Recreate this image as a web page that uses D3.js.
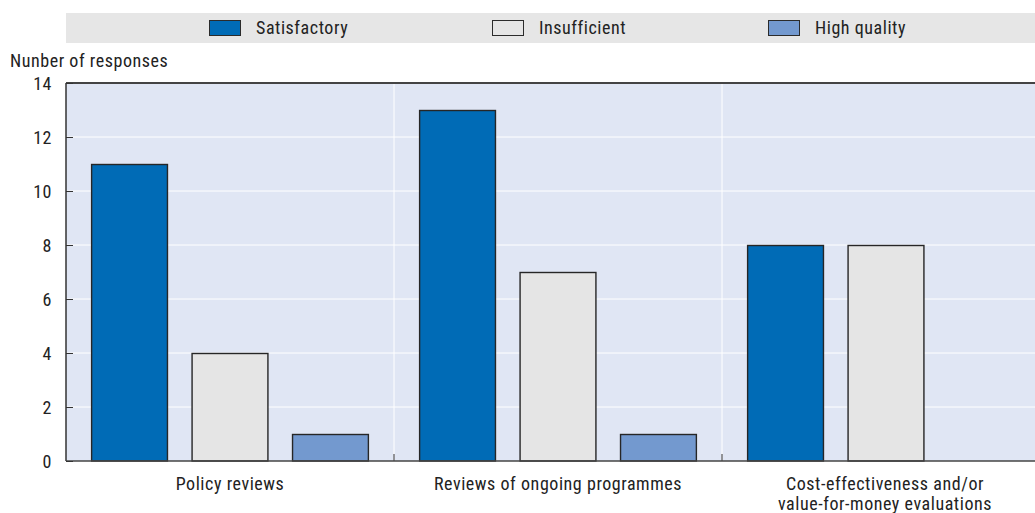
<!DOCTYPE html>
<html>
<head>
<meta charset="utf-8">
<script src="https://cdn.jsdelivr.net/npm/d3@7"></script>
<style>
  html, body { margin: 0; padding: 0; background: #fff; }
  svg { display: block; }
  text { font-family: "Liberation Sans Narrow", "Arial Narrow", "Roboto Condensed", "Liberation Sans", sans-serif; fill: #222; letter-spacing: 0.55px; }
</style>
</head>
<body>
<svg id="chart" width="1035" height="513"></svg>
<script>
// Evaluation types and counts of responses per quality rating
const categories = ["Policy reviews", "Reviews of ongoing programmes", "Cost-effectiveness and/or\nvalue-for-money evaluations"];
const seriesNames = ["Satisfactory", "Insufficient", "High quality"];
const satisfactory = [11, 13, 8];
const insufficient = [4, 7, 8];
const highQuality = [1, 1, 0];
const yTicks = [0, 2, 4, 6, 8, 10, 12, 14];
const yTitle = "Nunber of responses";

const colors = ["#006bb6", "#e5e5e5", "#7399cf"];
const seriesValues = [satisfactory, insufficient, highQuality];

const svg = d3.select("#chart");
const plot = { left: 66, right: 1050, top: 83, bottom: 461 };

const x = d3.scaleBand().domain(categories).range([plot.left, plot.right]).paddingInner(0).paddingOuter(0);
const xInner = d3.scaleBand().domain(seriesNames).range([0, x.bandwidth()]).paddingInner(0.235).paddingOuter(0.25);
const y = d3.scaleLinear().domain([0, 14]).range([plot.bottom, plot.top]);

// Plot background
svg.append("rect")
  .attr("x", plot.left).attr("y", plot.top)
  .attr("width", plot.right - plot.left).attr("height", plot.bottom - plot.top)
  .attr("fill", "#e0e6f4");

// Horizontal gridlines
svg.append("g").selectAll("line")
  .data(yTicks.filter(d => d > 0 && d < 14))
  .join("line")
  .attr("x1", plot.left).attr("x2", plot.right)
  .attr("y1", d => y(d)).attr("y2", d => y(d))
  .attr("stroke", "#fff").attr("stroke-width", 1);

// Vertical separators between category groups
const seps = categories.slice(1).map(c => x(c));
svg.append("g").selectAll("line")
  .data(seps)
  .join("line")
  .attr("x1", d => d).attr("x2", d => d)
  .attr("y1", plot.top).attr("y2", plot.bottom)
  .attr("stroke", "#fff").attr("stroke-width", 1);
svg.append("g").selectAll("line")
  .data(seps)
  .join("line")
  .attr("x1", d => d).attr("x2", d => d)
  .attr("y1", plot.bottom - 7).attr("y2", plot.bottom)
  .attr("stroke", "#333").attr("stroke-width", 1);

// Bars
const rows = [];
categories.forEach((c, i) => {
  seriesNames.forEach((s, j) => {
    rows.push({ cat: c, series: s, value: seriesValues[j][i], color: colors[j] });
  });
});
svg.append("g").selectAll("rect")
  .data(rows.filter(d => d.value > 0))
  .join("rect")
  .attr("x", d => x(d.cat) + xInner(d.series) + 0.5)
  .attr("y", d => y(d.value) + 0.5)
  .attr("width", xInner.bandwidth() - 1)
  .attr("height", d => y(0) - y(d.value) - 0.5)
  .attr("fill", d => d.color)
  .attr("stroke", "#262626").attr("stroke-width", 1.4);

// Axes frame: top line, left line, baseline
svg.append("line")
  .attr("x1", plot.left).attr("x2", plot.right)
  .attr("y1", plot.top).attr("y2", plot.top)
  .attr("stroke", "#444").attr("stroke-width", 2);
svg.append("line")
  .attr("x1", plot.left).attr("x2", plot.left)
  .attr("y1", plot.top).attr("y2", plot.bottom)
  .attr("stroke", "#333").attr("stroke-width", 1.5);
svg.append("line")
  .attr("x1", plot.left).attr("x2", plot.right)
  .attr("y1", plot.bottom).attr("y2", plot.bottom)
  .attr("stroke", "#444").attr("stroke-width", 1.5);

// Y axis ticks and labels
const yAxis = d3.axisRight(y).tickValues(yTicks).tickSize(7).tickFormat(d3.format("d"));
const yg = svg.append("g").attr("transform", `translate(${plot.left},0)`).call(yAxis);
yg.select(".domain").remove();
yg.selectAll(".tick line").attr("stroke", "#333");
yg.selectAll(".tick text")
  .attr("x", -14).attr("text-anchor", "end").attr("dy", "0.36em")
  .style("font-size", "18px");

svg.append("text")
  .attr("x", 10).attr("y", 67)
  .style("font-size", "18px")
  .text(yTitle);

// Category labels
const xl = svg.append("g").selectAll("text")
  .data(categories)
  .join("text")
  .attr("x", d => x(d) + x.bandwidth() / 2)
  .attr("y", 490)
  .attr("text-anchor", "middle")
  .style("font-size", "18px");
xl.each(function(d) {
  const lines = d.split("\n");
  const t = d3.select(this);
  lines.forEach((ln, k) => {
    t.append("tspan").attr("x", t.attr("x")).attr("dy", k === 0 ? 0 : 20).text(ln);
  });
});
// The last group's label sits centred on the visible part of its band
xl.filter((d, i) => i === 2).each(function() {
  d3.select(this).selectAll("tspan").attr("x", 885);
});

// Legend
svg.append("rect")
  .attr("x", plot.left).attr("y", 13)
  .attr("width", 1035 - plot.left).attr("height", 30)
  .attr("fill", "#e6e6e6");
const legendX = [209, 492, 768];
const lg = svg.append("g").selectAll("g")
  .data(seriesNames)
  .join("g")
  .attr("transform", (d, i) => `translate(${legendX[i]},20)`);
lg.append("rect")
  .attr("x", 0.5).attr("y", 0.5).attr("width", 31).attr("height", 15)
  .attr("fill", (d, i) => colors[i])
  .attr("stroke", "#2b2b2b").attr("stroke-width", 1);
lg.append("text")
  .attr("x", 47).attr("y", 14)
  .style("font-size", "18px")
  .text(d => d);
</script>
</body>
</html>
